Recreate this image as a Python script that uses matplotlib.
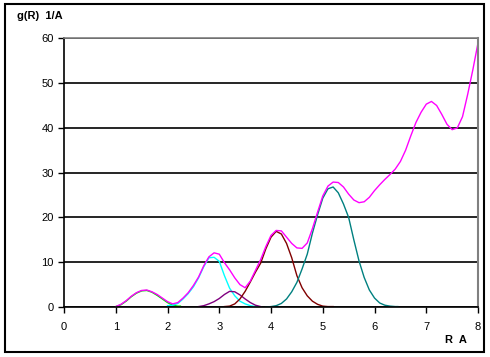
import matplotlib
matplotlib.use('Agg')
import matplotlib.pyplot as plt
from matplotlib.patches import Rectangle

plt.rcParams['font.family'] = ['Liberation Sans', 'DejaVu Sans']

# Partial g(R) curves (R in A, step 0.1)
r_green = [1.0, 1.1, 1.2, 1.3, 1.4, 1.5, 1.6, 1.7, 1.8, 1.9, 2.0, 2.1, 2.2, 2.25]
g_green = [0.1, 0.5, 1.3, 2.3, 3.1, 3.6, 3.7, 3.3, 2.6, 1.8, 1.0, 0.4, 0.2, 0.2]

r_cyan = [2.0, 2.1, 2.2, 2.3, 2.4, 2.5, 2.6, 2.7, 2.8, 2.9, 3.0, 3.1, 3.2, 3.3,
          3.4, 3.5, 3.6, 3.7, 3.8]
g_cyan = [0.3, 0.4, 0.8, 1.8, 3.0, 4.5, 6.5, 9.0, 11.0, 11.1, 10.2, 7.0, 4.2,
          2.5, 1.3, 0.7, 0.3, 0.1, 0.0]

r_purple = [2.6, 2.7, 2.8, 2.9, 3.0, 3.1, 3.2, 3.3, 3.4, 3.5, 3.6, 3.7, 3.8]
g_purple = [0.1, 0.3, 0.7, 1.2, 1.9, 2.8, 3.5, 3.4, 2.7, 1.8, 1.0, 0.4, 0.1]

r_red = [3.1, 3.2, 3.3, 3.4, 3.5, 3.6, 3.7, 3.8, 3.9, 4.0, 4.1, 4.2, 4.3, 4.4,
         4.5, 4.6, 4.7, 4.8, 4.9, 5.0, 5.1, 5.2]
g_red = [0.1, 0.2, 0.7, 1.8, 3.5, 5.6, 7.8, 9.8, 13.0, 15.6, 16.9, 16.3, 14.2,
         11.0, 7.0, 4.3, 2.5, 1.3, 0.6, 0.2, 0.1, 0.1]

r_teal = [3.9, 4.0, 4.1, 4.2, 4.3, 4.4, 4.5, 4.6, 4.7, 4.8, 4.9, 5.0, 5.1, 5.2,
          5.3, 5.4, 5.5, 5.6, 5.7, 5.8, 5.9, 6.0, 6.1, 6.2, 6.3, 6.4, 6.45]
g_teal = [0.0, 0.1, 0.3, 0.8, 1.8, 3.4, 5.5, 8.5, 11.8, 16.5, 20.6, 24.3, 26.4,
          26.8, 25.5, 23.0, 20.0, 15.0, 10.3, 6.6, 3.8, 2.0, 0.9, 0.4, 0.2,
          0.1, 0.1]

r_total = [1.0, 1.1, 1.2, 1.3, 1.4, 1.5, 1.6, 1.7, 1.8, 1.9, 2.0, 2.1, 2.2, 2.3,
           2.4, 2.5, 2.6, 2.7, 2.8, 2.9, 3.0, 3.1, 3.2, 3.3, 3.4, 3.5, 3.6, 3.7,
           3.8, 3.9, 4.0, 4.1, 4.2, 4.3, 4.4, 4.5, 4.6, 4.7, 4.8, 4.9, 5.0, 5.1,
           5.2, 5.3, 5.4, 5.5, 5.6, 5.7, 5.8, 5.9, 6.0, 6.1, 6.2, 6.3, 6.4, 6.5,
           6.6, 6.7, 6.8, 6.9, 7.0, 7.1, 7.2, 7.3, 7.4, 7.5, 7.6, 7.7, 7.8, 7.9,
           8.0]
g_total = [0.1, 0.6, 1.4, 2.4, 3.2, 3.7, 3.8, 3.4, 2.8, 2.0, 1.2, 0.7, 1.0, 2.0,
           3.2, 4.8, 6.7, 9.2, 11.2, 12.1, 11.8, 9.9, 8.3, 6.5, 5.0, 4.3, 5.8,
           8.2, 10.6, 13.5, 16.0, 17.1, 17.0, 15.6, 14.2, 13.2, 13.1, 14.3,
           17.5, 21.2, 24.8, 27.0, 27.9, 27.8, 26.8, 25.2, 23.9, 23.3, 23.5,
           24.5, 26.0, 27.3, 28.5, 29.6, 30.8, 32.5, 35.0, 38.2, 41.2, 43.5,
           45.3, 45.9, 45.0, 43.0, 40.8, 39.6, 40.0, 42.5, 47.5, 53.0, 59.0]

x_ticks = [0, 1, 2, 3, 4, 5, 6, 7, 8]
y_ticks = [0, 10, 20, 30, 40, 50, 60]

fig = plt.figure(figsize=(4.9, 3.57), dpi=100)
ax = fig.add_axes([0.1306, 0.140, 0.845, 0.7527])

ax.plot(r_green, g_green, color='#00e000', lw=1)
ax.plot(r_cyan, g_cyan, color='#00ffff', lw=1)
ax.plot(r_purple, g_purple, color='#800080', lw=1)
ax.plot(r_red, g_red, color='#800000', lw=1)
ax.plot(r_teal, g_teal, color='#008080', lw=1)
ax.plot(r_total, g_total, color='#ff00ff', lw=1)

ax.set_xlim(0, 8)
ax.set_ylim(0, 60)
ax.set_xticks(x_ticks)
ax.set_yticks(y_ticks)
ax.yaxis.grid(True, color='black', lw=1.2)
ax.set_axisbelow(True)
ax.tick_params(direction='out', length=4.5, width=1, labelsize=8, color='black')
ax.tick_params(axis='x', pad=6)
ax.tick_params(axis='y', pad=3)
ax.spines['left'].set_color('black')
ax.spines['bottom'].set_color('black')
ax.spines['left'].set_linewidth(1.2)
ax.spines['bottom'].set_linewidth(1.2)
ax.spines['top'].set_color('#808080')
ax.spines['right'].set_color('#808080')
ax.spines['right'].set_linewidth(1.5)
ax.spines['top'].set_linewidth(1.2)

fig.text(17 / 490, 1 - 16 / 357, 'g(R)  1/A', fontsize=8, fontweight='bold',
         va='center', ha='left')
fig.text(445 / 490, 1 - 340 / 357, 'R  A', fontsize=8, fontweight='bold',
         va='center', ha='left')

fig.patches.append(Rectangle((5 / 490, 1 - 352 / 357), 479 / 490, 348 / 357,
                             transform=fig.transFigure, fill=False,
                             edgecolor='black', lw=1.5))

fig.savefig('out.png', dpi=100)
